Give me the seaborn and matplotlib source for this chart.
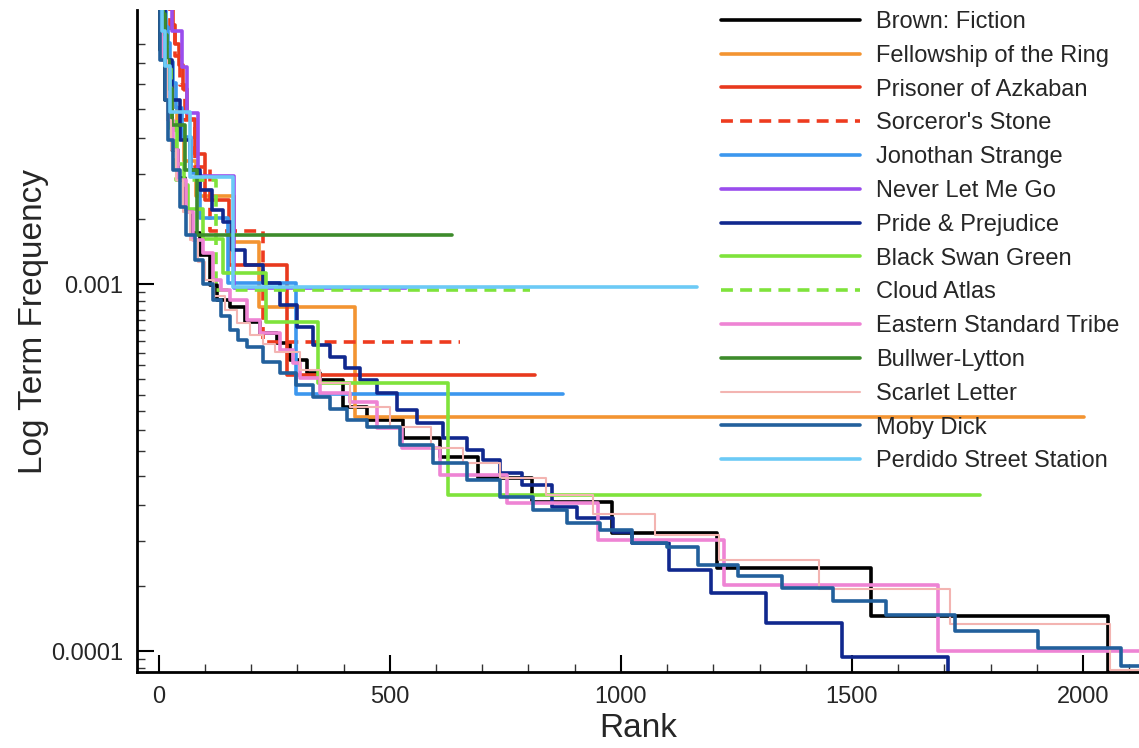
import numpy as np
import pandas as pd
import matplotlib
matplotlib.use("Agg")
import matplotlib.pyplot as plt
import matplotlib.ticker as mticker
import seaborn as sns

# ── Data: rank where each step starts, term frequency from that rank on ──────
brown_rank = [1, 3, 14, 29, 42, 57, 72, 89, 111, 126, 154, 186, 219, 256, 284, 321,
              349, 399, 450, 528, 608, 690, 807, 980, 1207, 1542, 2054]
brown_freq = [6.5e-3, 4.34e-3, 3.17e-3, 2.32e-3, 1.95e-3, 1.59e-3, 1.38e-3, 1.20e-3,
              0.994e-3, 0.905e-3, 0.866e-3, 0.788e-3, 0.735e-3, 0.691e-3, 0.621e-3,
              0.572e-3, 0.547e-3, 0.462e-3, 0.426e-3, 0.380e-3, 0.338e-3, 0.296e-3,
              0.255e-3, 0.210e-3, 0.168e-3, 0.125e-3, 0.084e-3]

fellow_rank = [1, 12, 16, 22, 30, 40, 55, 80, 162, 217, 424, 2002]
fellow_freq = [6.5e-3, 5.21e-3, 4.35e-3, 3.48e-3, 3.04e-3, 2.61e-3, 2.17e-3, 1.738e-3,
               1.304e-3, 0.867e-3, 0.435e-3, 0.435e-3]

prisoner_rank = [1, 30, 36, 44, 52, 62, 78, 101, 152, 277, 814]
prisoner_freq = [6.5e-3, 5.085e-3, 4.52e-3, 3.955e-3, 3.39e-3, 2.825e-3, 2.26e-3,
                 1.695e-3, 1.13e-3, 0.565e-3, 0.565e-3]

sorc_rank = [1, 25, 35, 46, 57, 78, 111, 225, 652]
sorc_freq = [6.5e-3, 4.88e-3, 4.18e-3, 3.49e-3, 2.79e-3, 2.09e-3, 1.394e-3, 0.697e-3, 0.697e-3]

jon_rank = [1, 12, 16, 20, 24, 30, 38, 50, 70, 90, 150, 297, 875]
jon_freq = [6.5e-3, 5.53e-3, 5.03e-3, 4.53e-3, 4.02e-3, 3.52e-3, 3.02e-3, 2.515e-3,
            2.01e-3, 1.51e-3, 1.006e-3, 0.503e-3, 0.503e-3]

nlmg_rank = [1, 28, 50, 61, 86, 163, 536]
nlmg_freq = [6.5e-3, 4.88e-3, 3.91e-3, 2.93e-3, 1.97e-3, 0.977e-3, 0.977e-3]

pp_rank = [1, 14, 29, 46, 68, 89, 115, 139, 159, 187, 226, 262, 299, 334, 370, 403,
           435, 472, 515, 558, 615, 666, 701, 738, 785, 852, 904, 982, 1025, 1104,
           1195, 1314, 1478, 1707]
pp_freq = [6.5e-3, 4.07e-3, 3.17e-3, 2.47e-3, 2.045e-3, 1.80e-3, 1.59e-3, 1.476e-3,
           1.238e-3, 1.127e-3, 1.006e-3, 0.877e-3, 0.764e-3, 0.682e-3, 0.633e-3,
           0.590e-3, 0.547e-3, 0.505e-3, 0.454e-3, 0.418e-3, 0.380e-3, 0.353e-3,
           0.331e-3, 0.305e-3, 0.283e-3, 0.247e-3, 0.230e-3, 0.211e-3, 0.197e-3,
           0.1667e-3, 0.1439e-3, 0.1192e-3, 0.0965e-3, 0.072e-3]

bsg_rank = [1, 10, 16, 25, 40, 55, 64, 95, 140, 233, 345, 626, 1778]
bsg_freq = [6.5e-3, 4.79e-3, 3.72e-3, 2.66e-3, 2.13e-3, 1.86e-3, 1.6e-3, 1.33e-3,
            1.07e-3, 0.789e-3, 0.536e-3, 0.266e-3, 0.266e-3]

ca_rank = [1, 10, 16, 26, 38, 125, 804]
ca_freq = [6.5e-3, 4.81e-3, 3.85e-3, 2.89e-3, 1.926e-3, 0.963e-3, 0.963e-3]

est_rank = [1, 7, 20, 31, 42, 58, 74, 96, 117, 135, 154, 191, 219, 262, 290, 306,
            349, 413, 472, 526, 608, 753, 950, 1222, 1687, 2130]
est_freq = [6.5e-3, 4.07e-3, 2.80e-3, 2.32e-3, 1.92e-3, 1.57e-3, 1.318e-3, 1.215e-3,
            1.025e-3, 0.963e-3, 0.905e-3, 0.798e-3, 0.735e-3, 0.661e-3, 0.609e-3,
            0.554e-3, 0.505e-3, 0.477e-3, 0.405e-3, 0.357e-3, 0.302e-3, 0.253e-3,
            0.201e-3, 0.151e-3, 0.100e-3, 0.100e-3]

bl_rank = [1, 10, 14, 18, 22, 28, 57, 83, 635]
bl_freq = [6.5e-3, 5.44e-3, 4.76e-3, 4.08e-3, 3.4e-3, 2.72e-3, 2.04e-3, 1.36e-3, 1.36e-3]

sl_rank = [1, 5, 18, 27, 37, 52, 68, 84, 100, 120, 143, 170, 197, 225, 252, 306, 349,
           413, 500, 590, 658, 738, 839, 939, 1073, 1212, 1428, 1712, 2058, 2130]
sl_freq = [6.5e-3, 4.07e-3, 2.80e-3, 2.32e-3, 1.92e-3, 1.57e-3, 1.318e-3, 1.148e-3,
           1.025e-3, 0.927e-3, 0.849e-3, 0.783e-3, 0.726e-3, 0.686e-3, 0.653e-3,
           0.583e-3, 0.537e-3, 0.463e-3, 0.409e-3, 0.357e-3, 0.325e-3, 0.296e-3,
           0.266e-3, 0.237e-3, 0.2077e-3, 0.1775e-3, 0.148e-3, 0.1185e-3, 0.089e-3,
           0.089e-3]

md_rank = [1, 3, 14, 20, 30, 46, 60, 78, 96, 117, 135, 154, 172, 191, 225, 262, 298,
           334, 370, 407, 450, 522, 593, 666, 738, 809, 883, 954, 1025, 1099, 1166,
           1253, 1348, 1458, 1574, 1722, 1902, 2082, 2130]
md_freq = [6.5e-3, 4.07e-3, 3.17e-3, 2.47e-3, 2.045e-3, 1.62e-3, 1.36e-3, 1.163e-3,
           1.0e-3, 0.905e-3, 0.818e-3, 0.749e-3, 0.704e-3, 0.673e-3, 0.613e-3,
           0.572e-3, 0.531e-3, 0.492e-3, 0.456e-3, 0.426e-3, 0.408e-3, 0.364e-3,
           0.325e-3, 0.292e-3, 0.263e-3, 0.242e-3, 0.223e-3, 0.214e-3, 0.197e-3,
           0.192e-3, 0.1715e-3, 0.160e-3, 0.1485e-3, 0.1368e-3, 0.1253e-3, 0.1134e-3,
           0.102e-3, 0.0912e-3, 0.0912e-3]

ps_rank = [1, 8, 14, 24, 68, 161, 1164]
ps_freq = [6.5e-3, 4.9e-3, 3.92e-3, 2.94e-3, 1.96e-3, 0.981e-3, 0.981e-3]

labels = ["Brown: Fiction", "Fellowship of the Ring", "Prisoner of Azkaban",
          "Sorceror's Stone", "Jonothan Strange", "Never Let Me Go",
          "Pride & Prejudice", "Black Swan Green", "Cloud Atlas",
          "Eastern Standard Tribe", "Bullwer-Lytton", "Scarlet Letter",
          "Moby Dick", "Perdido Street Station"]
ranks = [brown_rank, fellow_rank, prisoner_rank, sorc_rank, jon_rank, nlmg_rank,
         pp_rank, bsg_rank, ca_rank, est_rank, bl_rank, sl_rank, md_rank, ps_rank]
freqs = [brown_freq, fellow_freq, prisoner_freq, sorc_freq, jon_freq, nlmg_freq,
         pp_freq, bsg_freq, ca_freq, est_freq, bl_freq, sl_freq, md_freq, ps_freq]

# ── Styles ───────────────────────────────────────────────────────────────────
colors = ["#000000", "#f39431", "#e8391d", "#ee3b1f", "#3c97ee", "#9a4ded",
          "#10288e", "#7fe33b", "#7fe33b", "#ee84d4", "#3d8b2b", "#f3b4b1",
          "#22609c", "#6ccaf6"]
DASH = (0, (3.3, 2.0))
styles = ["-", "-", "-", DASH, "-", "-", "-", "-", DASH, "-", "-", "-", "-", "-"]
widths = [2.6, 2.6, 2.6, 2.6, 2.6, 2.6, 2.6, 2.6, 2.6, 2.6, 2.6, 1.5, 2.6, 2.6]

sns.set_style("white")
plt.rcParams["font.family"] = ["Liberation Sans", "DejaVu Sans"]

W, H = 1139, 748
fig = plt.figure(figsize=(W / 100, H / 100), dpi=100)
ax = fig.add_axes([137 / W, 1 - 672 / H, 1 - 137 / W, (672 - 10) / H])

for name, r, f, c, ls, lw in zip(labels, ranks, freqs, colors, styles, widths):
    df = pd.DataFrame({"rank": r, "freq": f})
    sns.lineplot(data=df, x="rank", y="freq", ax=ax, color=c, linestyle=ls,
                 linewidth=lw, drawstyle="steps-post", estimator=None, sort=False,
                 label=name)

ax.set_yscale("log")
ax.set_xlim(-47, 2121)
ax.set_ylim(8.77e-5, 5.58e-3)

# ── Axes cosmetics ───────────────────────────────────────────────────────────
for side in ["top", "right"]:
    ax.spines[side].set_visible(False)
for side in ["left", "bottom"]:
    ax.spines[side].set_linewidth(2.0)
    ax.spines[side].set_color("black")

ax.xaxis.set_major_locator(mticker.FixedLocator([0, 500, 1000, 1500, 2000]))
ax.xaxis.set_minor_locator(mticker.MultipleLocator(100))
ax.yaxis.set_major_locator(mticker.FixedLocator([1e-4, 1e-3]))
ax.yaxis.set_major_formatter(mticker.FixedFormatter(["0.0001", "0.001"]))
y_minor = np.concatenate([[9e-5, 9.5e-5], np.arange(1.5e-4, 9.6e-4, 5e-5),
                          np.arange(1.5e-3, 4.6e-3, 5e-4)])
ax.yaxis.set_minor_locator(mticker.FixedLocator(y_minor))
ax.yaxis.set_minor_formatter(mticker.NullFormatter())

ax.tick_params(which="major", direction="in", length=12, width=1.5, color="black",
               labelsize=17, pad=10, left=True, bottom=True)
ax.tick_params(which="minor", direction="in", length=6, width=1.0, color="#333333",
               left=True, bottom=True)

ax.set_xlabel("Rank", fontsize=24)
ax.set_ylabel("Log Term Frequency", fontsize=24)
ax.xaxis.set_label_coords(0.5, -0.062)
ax.yaxis.set_label_coords(-0.088, 0.53)

leg = ax.legend(loc="upper left", bbox_to_anchor=(721 / W, 1 - 11 / H),
                bbox_transform=fig.transFigure, frameon=False, fontsize=17,
                handlelength=5.9, handletextpad=0.68, labelspacing=0.50,
                borderpad=0, borderaxespad=0)

fig.savefig("out.png", dpi=100)
